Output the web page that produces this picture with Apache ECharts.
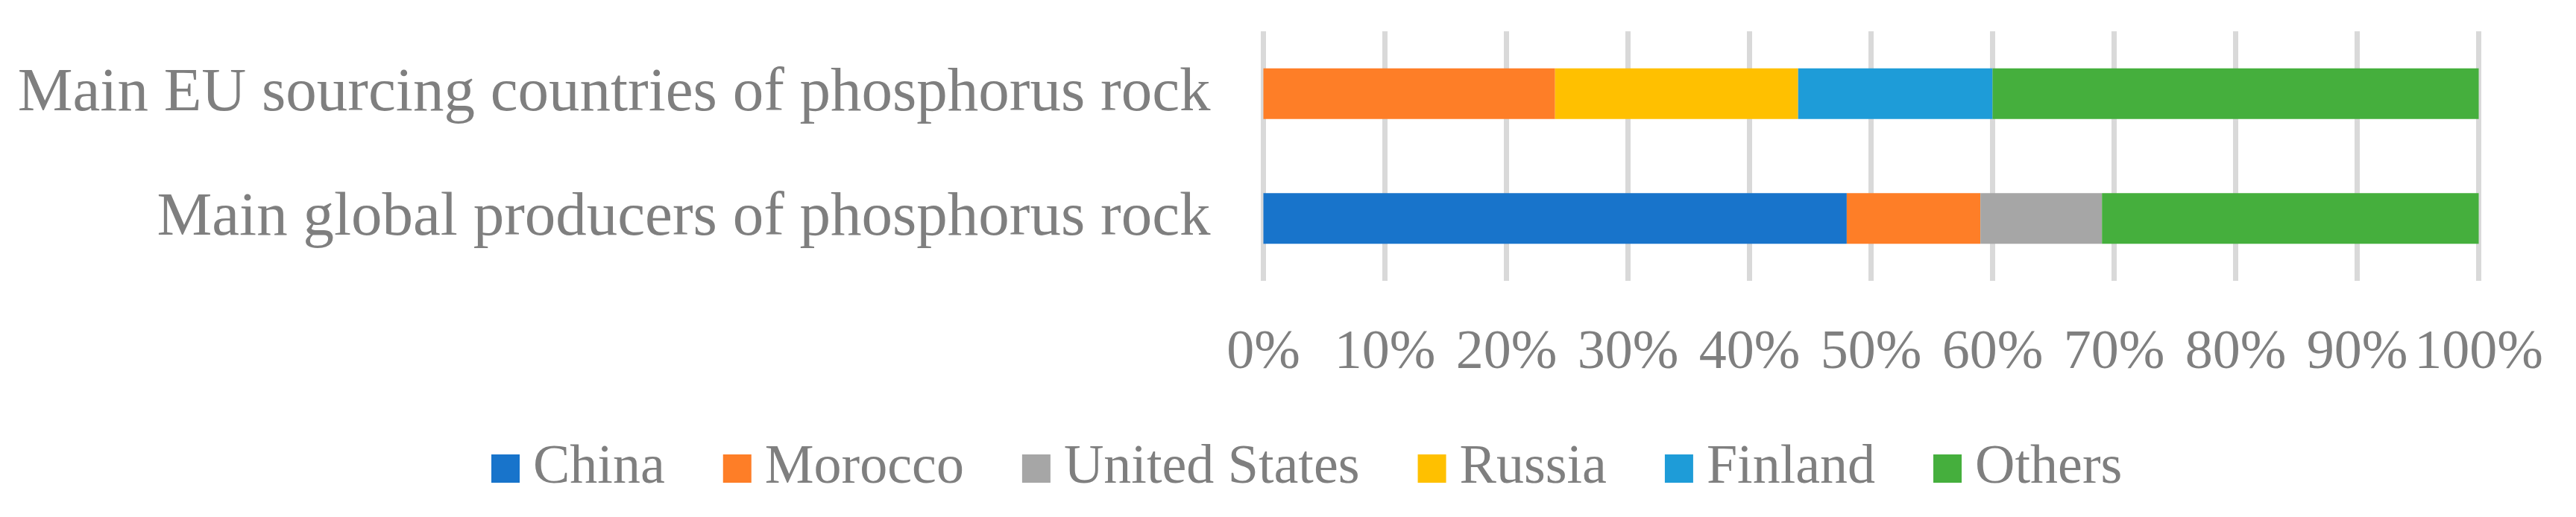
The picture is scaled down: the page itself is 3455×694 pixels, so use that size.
<!DOCTYPE html>
<html>
<head>
<meta charset="utf-8">
<script src="https://cdn.jsdelivr.net/npm/echarts@6/dist/echarts.min.js"></script>
<style>
  html, body { margin: 0; padding: 0; background: #fff; }
  #chart { width: 3455px; height: 694px; }
</style>
</head>
<body>
<div id="chart"></div>
<script>
// categories, bottom to top
var categories = ['Main global producers of phosphorus rock', 'Main EU sourcing countries of phosphorus rock']
var seriesNames = ['China', 'Morocco', 'United States', 'Russia', 'Finland', 'Others']
// shares in percent, [global producers, EU sourcing]
var china = [48, 0]
var morocco = [11, 24]
var unitedStates = [10, 0]
var russia = [0, 20]
var finland = [0, 16]
var others = [31, 40]
var tickLabels = ['0%', '10%', '20%', '30%', '40%', '50%', '60%', '70%', '80%', '90%', '100%']

var colors = ['#1874CB', '#FE7E27', '#A6A6A6', '#FFC000', '#1E9CD8', '#45AF3D']
var font = '"Liberation Serif", "Times New Roman", serif'
var textColor = '#7F7F7F'

var values = [china, morocco, unitedStates, russia, finland, others]
var series = seriesNames.map(function (name, i) {
  return {
    name: name,
    type: 'bar',
    stack: 'share',
    barWidth: 68,
    itemStyle: { color: colors[i] },
    data: values[i]
  }
})

var chart = echarts.init(document.getElementById('chart'))
chart.setOption({
  animation: false,
  backgroundColor: '#fff',
  color: colors,
  grid: {
    left: 1694.5,
    right: 130.5,
    top: 42,
    bottom: 317,
    containLabel: false
  },
  legend: {
    data: seriesNames,
    left: 654,
    top: 584,
    icon: 'rect',
    itemWidth: 38,
    itemHeight: 38,
    itemGap: 78,
    textStyle: {
      fontFamily: font,
      fontSize: 74,
      color: textColor,
      lineHeight: 80,
      padding: [0, 0, 0, 13]
    }
  },
  xAxis: {
    type: 'value',
    min: 0,
    max: 100,
    interval: 10,
    axisLine: { show: false },
    axisTick: { show: false },
    splitLine: { show: true, lineStyle: { color: '#D9D9D9', width: 7 } },
    axisLabel: {
      margin: 61,
      fontFamily: font,
      fontSize: 74,
      lineHeight: 74,
      color: textColor,
      formatter: function (v) { return tickLabels[Math.round(v / 10)] }
    }
  },
  yAxis: {
    type: 'category',
    data: categories,
    axisLine: { show: false },
    axisTick: { show: false },
    splitLine: { show: false },
    axisLabel: {
      margin: 71,
      fontFamily: font,
      fontSize: 83,
      color: textColor
    }
  },
  series: series
})
</script>
</body>
</html>
